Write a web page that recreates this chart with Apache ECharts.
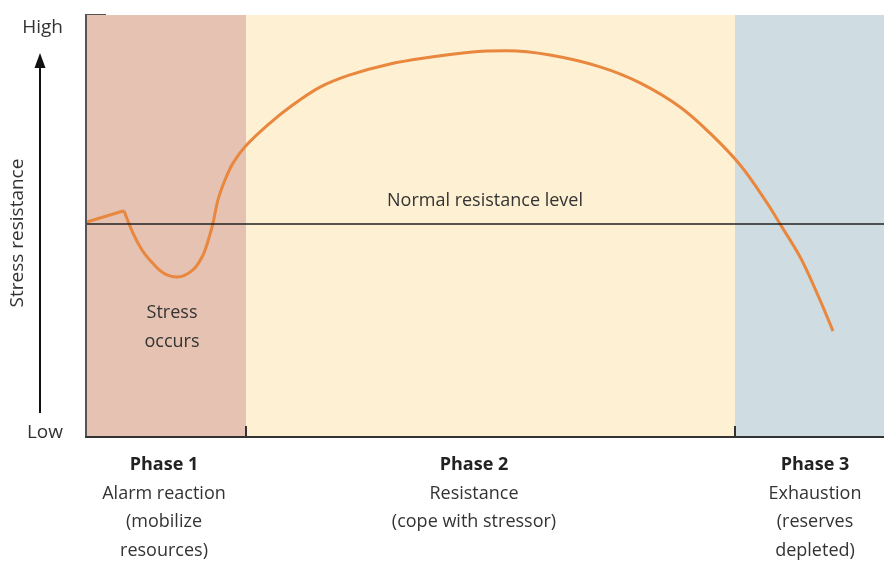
<!DOCTYPE html>
<html>
<head>
<meta charset="utf-8">
<title>Stress resistance phases</title>
<script src="https://cdn.jsdelivr.net/npm/echarts@6/dist/echarts.min.js"></script>
<style>
  html, body { margin: 0; padding: 0; background: #fff; }
  #main { width: 884px; height: 562px; }
</style>
</head>
<body>
<div id="main"></div>
<script>
// 起始直线段（到第一个尖角为止）
const startX = [0, 38];
const startY = [50.9, 53.6];

// 尖角之后的平滑曲线：x 为横向位置（0-798），y 为抵抗水平（0-100）
const curveX = [38, 47, 56, 64, 77, 91, 107, 117, 123, 127, 132, 139, 147, 159, 184, 204,
  234, 264, 304, 344, 384, 421, 464, 514, 554, 594, 624, 654, 681, 694, 714, 731, 747];
const curveY = [53.6, 48.3, 44.3, 41.9, 38.9, 37.9, 39.6, 43.1, 47.2, 50.7, 56.2, 60.9, 64.9, 68.8, 74.4, 78.2,
  82.9, 85.8, 88.4, 90.0, 91.2, 91.5, 90.5, 87.7, 83.9, 78.2, 72.0, 64.5, 55.5, 50.5, 42.7, 34.1, 25.1];

const normalLevel = 50.5;

// 三个阶段
const phaseStart = [0, 160, 649];
const phaseEnd = [160, 649, 798];
const phaseColors = ['#e5c2b2', '#fef0d2', '#cfdde2'];
const phaseLabelX = [78, 388, 729];
const phaseTitles = ['Phase 1', 'Phase 2', 'Phase 3'];
const phaseTexts = [
  ['Alarm reaction', '(mobilize', 'resources)'],
  ['Resistance', '(cope with stressor)'],
  ['Exhaustion', '(reserves', 'depleted)']
];

// y 轴两端文字
const levelValues = [1, 97];
const levelNames = ['Low', 'High'];

const myChart = echarts.init(document.getElementById('main'));
const font = 'Open Sans';
const orange = '#e8873d';

const option = {
  animation: false,
  textStyle: { fontFamily: font },
  grid: { left: 86, right: 0, top: 15, bottom: 125 },
  xAxis: {
    type: 'value',
    min: 0,
    max: 798,
    z: 5,
    splitLine: { show: false },
    axisLine: { show: true, onZero: false, lineStyle: { color: '#333', width: 2 } },
    axisTick: {
      show: true,
      inside: true,
      length: 11,
      customValues: [phaseEnd[0], phaseEnd[1]],
      lineStyle: { color: '#333', width: 2 }
    },
    axisLabel: {
      show: true,
      customValues: phaseLabelX,
      margin: 14,
      formatter: v => {
        const i = phaseLabelX.indexOf(v);
        if (i < 0) return '';
        return ['{b|' + phaseTitles[i] + '}'].concat(phaseTexts[i].map(t => '{n|' + t + '}')).join('\n');
      },
      rich: {
        b: { fontFamily: font, fontSize: 18, fontWeight: 'bold', color: '#222', lineHeight: 28.5 },
        n: { fontFamily: font, fontSize: 18, color: '#333', lineHeight: 28.5 }
      }
    }
  },
  yAxis: {
    type: 'value',
    min: 0,
    max: 100,
    z: 5,
    splitLine: { show: false },
    axisLine: { show: true, lineStyle: { color: '#555', width: 2 } },
    axisTick: { show: false },
    axisLabel: {
      show: true,
      customValues: levelValues,
      margin: 23,
      fontSize: 19,
      color: '#333',
      formatter: v => levelNames[levelValues.indexOf(v)] || ''
    }
  },
  series: [
    {
      type: 'line',
      silent: true,
      symbol: 'none',
      lineStyle: { color: orange, width: 3 },
      data: startX.map((x, i) => [x, startY[i]]),
      z: 3
    },
    {
      type: 'line',
      silent: true,
      smooth: 0.35,
      symbol: 'none',
      lineStyle: { color: orange, width: 3 },
      data: curveX.map((x, i) => [x, curveY[i]]),
      markArea: {
        silent: true,
        data: phaseStart.map((s, i) => [
          { xAxis: s, itemStyle: { color: phaseColors[i] } },
          { xAxis: phaseEnd[i] }
        ])
      },
      markLine: {
        silent: true,
        symbol: 'none',
        lineStyle: { color: '#222', width: 1.5, type: 'solid' },
        label: {
          show: true,
          position: 'insideMiddleTop',
          distance: 14,
          formatter: 'Normal resistance level',
          fontFamily: font,
          fontSize: 18,
          color: '#333'
        },
        data: [{ yAxis: normalLevel }]
      },
      z: 3
    }
  ],
  graphic: [
    // 顶部短横线
    { type: 'line', shape: { x1: 85, y1: 15, x2: 106, y2: 15 }, style: { stroke: '#555', lineWidth: 2 } },
    // 纵向箭头
    { type: 'line', shape: { x1: 40, y1: 413, x2: 40, y2: 62 }, style: { stroke: '#111', lineWidth: 2 } },
    { type: 'polygon', shape: { points: [[40, 53], [34.5, 68], [45.5, 68]] }, style: { fill: '#111' } },
    {
      type: 'text',
      x: 18, y: 233,
      rotation: Math.PI / 2,
      style: {
        text: 'Stress resistance',
        font: '19px "' + font + '"',
        fill: '#333',
        align: 'center',
        verticalAlign: 'middle'
      }
    },
    {
      type: 'text',
      x: 172, y: 327,
      z: 10,
      style: {
        text: 'Stress\noccurs',
        font: '18px "' + font + '"',
        lineHeight: 29,
        fill: '#333',
        align: 'center',
        verticalAlign: 'middle'
      }
    }
  ]
};

myChart.setOption(option);
</script>
</body>
</html>
